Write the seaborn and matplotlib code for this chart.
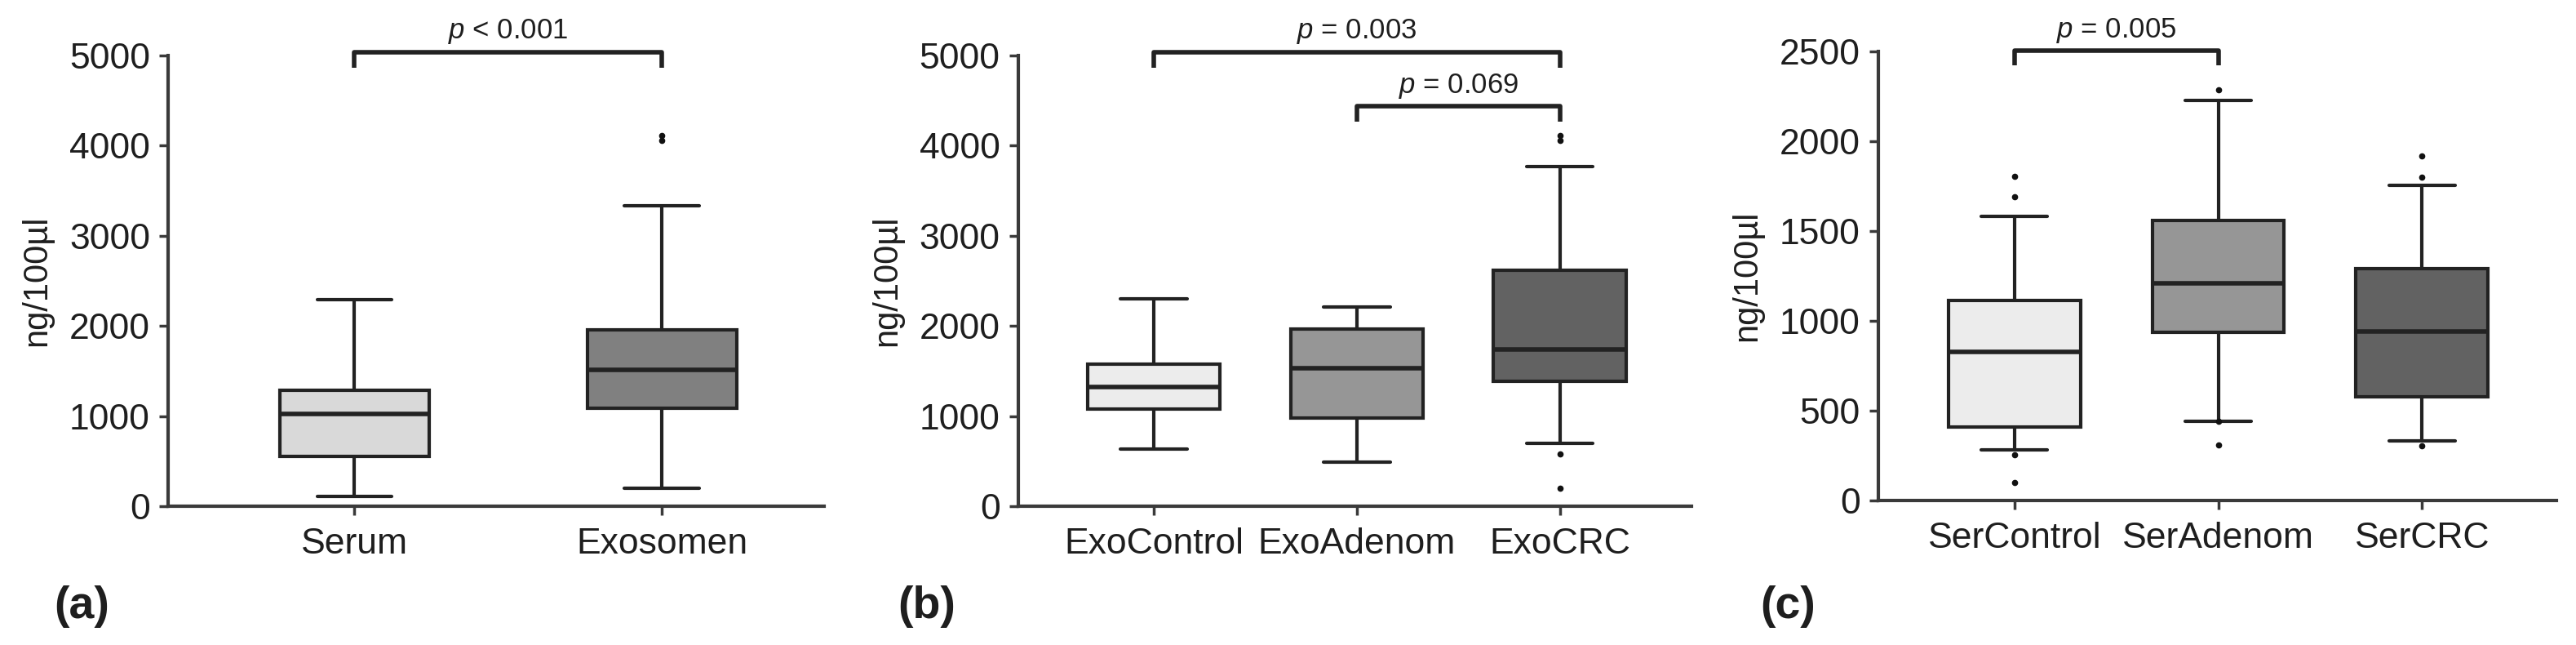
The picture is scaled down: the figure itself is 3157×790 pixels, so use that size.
import numpy as np
import matplotlib
matplotlib.use("Agg")
import matplotlib.pyplot as plt
import seaborn as sns

# panel (a)
groups_a = ["Serum", "Exosomen"]
low_a = [110, 200]
q1_a = [555, 1085]
med_a = [1020, 1510]
q3_a = [1285, 1960]
high_a = [2290, 3330]
fliers_a = [[], [4060, 4110]]
colors_a = ["#d9d9d9", "#808080"]

# panel (b)
groups_b = ["ExoControl", "ExoAdenom", "ExoCRC"]
low_b = [630, 490, 700]
q1_b = [1080, 975, 1385]
med_b = [1320, 1535, 1740]
q3_b = [1580, 1965, 2615]
high_b = [2300, 2210, 3765]
fliers_b = [[], [], [4060, 4110, 580, 195]]

# panel (c)
groups_c = ["SerControl", "SerAdenom", "SerCRC"]
low_c = [280, 440, 330]
q1_c = [408, 935, 575]
med_c = [825, 1210, 940]
q3_c = [1115, 1560, 1290]
high_c = [1580, 2225, 1755]
fliers_c = [[1805, 1690, 255, 100], [2285, 440, 310], [1920, 1800, 305]]
colors_3 = ["#ececec", "#969696", "#626262"]

sns.set_theme(style="ticks")
plt.rcParams["font.family"] = ["Liberation Sans", "DejaVu Sans"]
plt.rcParams["mathtext.fontset"] = "custom"
plt.rcParams["mathtext.it"] = "Liberation Sans:italic"
plt.rcParams["mathtext.rm"] = "Liberation Sans"
plt.rcParams["text.color"] = "#1e1e1e"
plt.rcParams["axes.labelcolor"] = "#1e1e1e"
plt.rcParams["xtick.labelcolor"] = "#1e1e1e"
plt.rcParams["ytick.labelcolor"] = "#1e1e1e"

EDGE = "#222222"
SPINE = "#3a3a3a"


def make_stats(groups, low, q1, med, q3, high, fliers):
    stats = []
    for i, g in enumerate(groups):
        stats.append({
            "label": g, "whislo": low[i], "q1": q1[i], "med": med[i],
            "q3": q3[i], "whishi": high[i], "fliers": np.array(fliers[i]),
        })
    return stats


def draw_panel(ax, stats, colors, width, ymax, step, xlim):
    bp = ax.bxp(
        stats, positions=range(len(stats)), widths=width, patch_artist=True,
        showfliers=True,
        boxprops=dict(edgecolor=EDGE, linewidth=3),
        medianprops=dict(color=EDGE, linewidth=4),
        whiskerprops=dict(color=EDGE, linewidth=3),
        capprops=dict(color=EDGE, linewidth=3),
        capwidths=width * 0.5,
        flierprops=dict(marker="o", markersize=4.5, markerfacecolor="#111111",
                        markeredgecolor="#111111", linestyle="none"),
    )
    for patch, c in zip(bp["boxes"], colors):
        patch.set_facecolor(c)
    ax.set_xlim(*xlim)
    ax.set_ylim(0, ymax)
    ax.set_yticks(np.arange(0, ymax + 1, step))
    ax.set_ylabel("ng/100µl", fontsize=30, labelpad=14)
    ax.tick_params(axis="y", labelsize=32, length=8, width=2.5, color=SPINE, pad=8)
    ax.tick_params(axis="x", labelsize=32, length=8, width=2.5, color=SPINE, pad=11)
    sns.despine(ax=ax)
    for s in ["left", "bottom"]:
        ax.spines[s].set_linewidth(3)
        ax.spines[s].set_color(SPINE)
    ax.set_facecolor("white")


def bracket(ax, x0, x1, y_top, y_leg, text, y_text):
    ax.plot([x0, x0, x1, x1], [y_leg, y_top, y_top, y_leg], color=EDGE,
            lw=4, clip_on=False, solid_capstyle="butt")
    ax.text((x0 + x1) / 2, y_text, text, ha="center", va="center",
            fontsize=25, clip_on=False)


fig = plt.figure(figsize=(31.57, 7.9), dpi=100)
fig.patch.set_facecolor("white")
ax_a = fig.add_axes([0.0653, 0.2152, 0.2547, 0.6987])
ax_b = fig.add_axes([0.3953, 0.2152, 0.2613, 0.6987])
ax_c = fig.add_axes([0.7292, 0.2241, 0.2632, 0.6962])

draw_panel(ax_a, make_stats(groups_a, low_a, q1_a, med_a, q3_a, high_a, fliers_a),
           colors_a, 0.485, 5000, 1000, (-0.605, 1.528))
draw_panel(ax_b, make_stats(groups_b, low_b, q1_b, med_b, q3_b, high_b, fliers_b),
           colors_3, 0.654, 5000, 1000, (-0.668, 2.648))
draw_panel(ax_c, make_stats(groups_c, low_c, q1_c, med_c, q3_c, high_c, fliers_c),
           colors_3, 0.647, 2500, 500, (-0.668, 2.66))

bracket(ax_a, 0, 1, 5036, 4864, r"$\it{p}$ < 0.001", 5270)
bracket(ax_b, 0, 2, 5036, 4864, r"$\it{p}$ = 0.003", 5270)
bracket(ax_b, 1, 2, 4436, 4270, r"$\it{p}$ = 0.069", 4660)
bracket(ax_c, 0, 1, 2505, 2423, r"$\it{p}$ = 0.005", 2615)

for label, x in [("(a)", 100), ("(b)", 1136), ("(c)", 2191)]:
    fig.text(x / 3157, 1 - 743 / 790, label, fontsize=40, fontweight="bold",
             ha="center", va="center")

fig.savefig("out.png", dpi=100, facecolor="white")
